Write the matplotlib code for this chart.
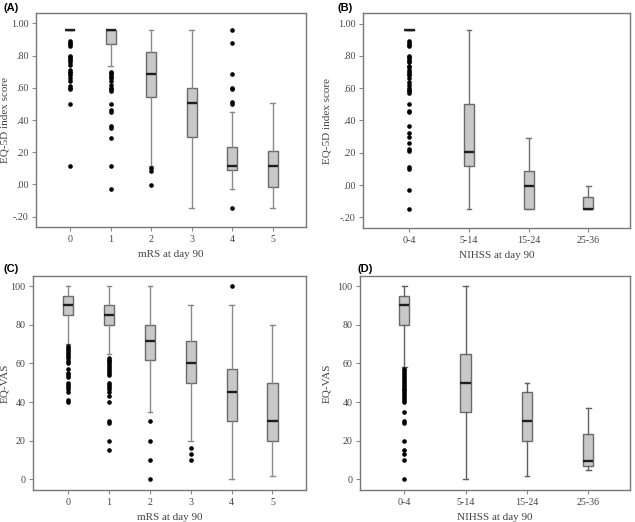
import matplotlib
matplotlib.use("Agg")
import matplotlib.pyplot as plt

# Gruppen
mrs_groups = ["0", "1", "2", "3", "4", "5"]
nihss_groups = ["0-4", "5-14", "15-24", "25-36"]

# (A) EQ-5D index nach mRS: q1, med, q3, whislo, whishi
eq5d_mrs_q1 = [0.96, 0.87, 0.54, 0.295, 0.087, -0.018]
eq5d_mrs_med = [0.96, 0.96, 0.685, 0.508, 0.116, 0.116]
eq5d_mrs_q3 = [0.96, 0.96, 0.824, 0.597, 0.234, 0.207]
eq5d_mrs_lo = [0.96, 0.737, 0.116, -0.148, -0.028, -0.148]
eq5d_mrs_hi = [0.96, 0.96, 0.96, 0.96, 0.452, 0.505]
eq5d_mrs_fliers = [
    [0.89, 0.88, 0.87, 0.86, 0.80, 0.79, 0.78, 0.77, 0.76, 0.74, 0.71, 0.70,
     0.69, 0.68, 0.66, 0.64, 0.61, 0.60, 0.59, 0.50, 0.116],
    [0.70, 0.69, 0.68, 0.67, 0.66, 0.64, 0.62, 0.60, 0.59, 0.58, 0.50, 0.46,
     0.45, 0.36, 0.35, 0.29, 0.116, -0.03],
    [0.10, 0.085, -0.003],
    [],
    [0.96, 0.876, 0.683, 0.597, 0.59, 0.51, 0.50, -0.148],
    [],
]

# (B) EQ-5D index nach NIHSS
eq5d_nih_q1 = [0.96, 0.116, -0.148, -0.148]
eq5d_nih_med = [0.96, 0.207, -0.003, -0.148]
eq5d_nih_q3 = [0.96, 0.503, 0.087, -0.076]
eq5d_nih_lo = [0.96, -0.148, -0.148, -0.148]
eq5d_nih_hi = [0.96, 0.96, 0.294, -0.003]
eq5d_nih_fliers = [
    [0.89, 0.88, 0.87, 0.86, 0.80, 0.79, 0.78, 0.77, 0.76, 0.74, 0.73, 0.71,
     0.70, 0.69, 0.68, 0.66, 0.64, 0.62, 0.60, 0.59, 0.58, 0.57, 0.50, 0.46,
     0.45, 0.367, 0.325, 0.30, 0.26, 0.224, 0.21, 0.112, 0.10, -0.03, -0.148],
    [], [], [],
]

# (C) EQ-VAS nach mRS
vas_mrs_q1 = [85, 80, 61.5, 50, 30, 20]
vas_mrs_med = [90, 85, 71.5, 60, 45, 30]
vas_mrs_q3 = [95, 90, 80, 71.5, 57, 50]
vas_mrs_lo = [70, 65, 35, 20, 0, 2]
vas_mrs_hi = [100, 100, 100, 90, 90, 80]
vas_mrs_fliers = [
    [69, 68, 67, 66, 65, 64, 63, 61, 60, 57, 55, 54, 53, 50, 49, 48, 47, 45, 41, 40],
    [63, 62, 61, 60, 59, 58, 57, 56, 55, 54, 50, 49, 48, 47, 45, 43, 40, 30, 29, 20, 15],
    [30, 20, 10, 0],
    [16, 13, 10],
    [100],
    [],
]

# (D) EQ-VAS nach NIHSS
vas_nih_q1 = [80, 35, 20, 7]
vas_nih_med = [90, 50, 30, 9.5]
vas_nih_q3 = [95, 65, 45, 23.5]
vas_nih_lo = [58, 0, 2, 5]
vas_nih_hi = [100, 100, 50, 37]
vas_nih_fliers = [
    [57, 56, 55, 54, 53, 52, 51, 50, 49, 48, 47, 46, 45, 44, 43, 42, 41, 40,
     35, 30, 29, 20, 15, 13, 10, 0],
    [], [], [],
]


def make_stats(labels, q1, med, q3, lo, hi, fliers):
    stats = []
    for i in range(len(labels)):
        stats.append(dict(label=labels[i], q1=q1[i], med=med[i], q3=q3[i],
                          whislo=lo[i], whishi=hi[i], fliers=fliers[i]))
    return stats


plt.rcParams['font.family'] = ['Liberation Serif', 'DejaVu Serif']
txt_col = '#444444'

fig = plt.figure(figsize=(6.35, 5.22), dpi=100)
W, H = 635, 522
# Achsen-Positionen in Pixeln (links, oben, rechts, unten)
boxes_px = [(36, 13, 306, 227), (363, 13, 630, 228),
            (33, 276, 306, 490), (360, 276, 630, 490)]
axes = []
for l, t, r, b in boxes_px:
    axes.append(fig.add_axes([l / W, 1 - b / H, (r - l) / W, (b - t) / H]))

panels = [
    (make_stats(mrs_groups, eq5d_mrs_q1, eq5d_mrs_med, eq5d_mrs_q3, eq5d_mrs_lo, eq5d_mrs_hi, eq5d_mrs_fliers),
     "mRS at day 90", "EQ-5D index score", 0.25),
    (make_stats(nihss_groups, eq5d_nih_q1, eq5d_nih_med, eq5d_nih_q3, eq5d_nih_lo, eq5d_nih_hi, eq5d_nih_fliers),
     "NIHSS at day 90", "EQ-5D index score", 0.17),
    (make_stats(mrs_groups, vas_mrs_q1, vas_mrs_med, vas_mrs_q3, vas_mrs_lo, vas_mrs_hi, vas_mrs_fliers),
     "mRS at day 90", "EQ-VAS", 0.25),
    (make_stats(nihss_groups, vas_nih_q1, vas_nih_med, vas_nih_q3, vas_nih_lo, vas_nih_hi, vas_nih_fliers),
     "NIHSS at day 90", "EQ-VAS", 0.17),
]

# Position der y-Beschriftung (Achsenkoordinaten) und Whiskerfarbe
ylabel_x = [-0.115, -0.135, -0.103, -0.122]
whisker_cols = ['#8a8a8a', '#707070', '#8a8a8a', '#606060']

for ax, (stats, xlab, ylab, bw), yx, wc in zip(axes, panels, ylabel_x, whisker_cols):
    n = len(stats)
    ax.bxp(stats, positions=range(n), widths=bw, patch_artist=True,
           boxprops=dict(facecolor='#c8c8c8', edgecolor='#6a6a6a', linewidth=1.0),
           medianprops=dict(color='#1e1e1e', linewidth=1.7),
           whiskerprops=dict(color=wc, linewidth=1.0),
           capprops=dict(color=wc, linewidth=1.0),
           capwidths=bw * 0.45,
           flierprops=dict(marker='o', markerfacecolor='black', markeredgecolor='black',
                           markersize=2.3, linestyle='none'))
    ax.set_xticks(range(n))
    ax.set_xticklabels([s['label'] for s in stats])
    ax.set_xlabel(xlab, fontsize=8, color=txt_col)
    ax.set_ylabel(ylab, fontsize=8, color=txt_col)
    ax.xaxis.set_label_coords(0.5, -0.128)
    ax.xaxis.label.set_va('center')
    ax.yaxis.set_label_coords(yx, 0.5)
    ax.yaxis.label.set_va('center')
    ax.tick_params(colors='#888888', labelcolor=txt_col, labelsize=7.2, length=3, width=0.8, pad=2.5)
    for sp in ax.spines.values():
        sp.set_color('#777777')
        sp.set_linewidth(1.0)

# Panel-Kennungen (Pixelpositionen)
tags = ["(A)", "(B)", "(C)", "(D)"]
tag_px = [(3, 8), (338, 8), (3, 269), (358, 269)]
for tag, (tx, ty) in zip(tags, tag_px):
    fig.text(tx / W, 1 - ty / H, tag, fontsize=8, fontweight='bold',
             family=['Liberation Sans', 'DejaVu Sans'], va='center', ha='left', color='black')

axes[0].set_xlim(-0.84, 5.82)
axes[2].set_xlim(-0.86, 5.82)
axes[1].set_xlim(-0.78, 3.70)
axes[3].set_xlim(-0.72, 3.68)

eq_ticks = [-0.2, 0.0, 0.2, 0.4, 0.6, 0.8, 1.0]
eq_labels = ['-.20', '.00', '.20', '.40', '.60', '.80', '1.00']
for ax in axes[:2]:
    ax.set_ylim(-0.265, 1.065)
    ax.set_yticks(eq_ticks)
    ax.set_yticklabels(eq_labels)
for ax in axes[2:]:
    ax.set_ylim(-5.5, 105.2)
    ax.set_yticks([0, 20, 40, 60, 80, 100])

fig.savefig("out.png", dpi=100)
